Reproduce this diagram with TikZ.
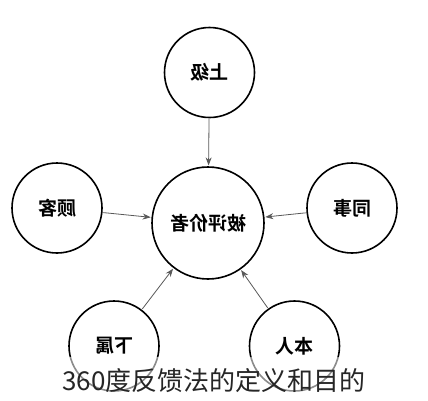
\documentclass[tikz,border=0pt]{standalone}
\usepackage{fontspec}
\usepackage{graphicx}
\newfontfamily\cjk{Noto Sans CJK SC}
\newfontfamily\cjkbold{Noto Sans CJK SC Bold}
\usetikzlibrary{arrows.meta}

\begin{document}
\begin{tikzpicture}[x=1pt, y=-1pt, >={Stealth[length=8pt, width=6pt]},
  every node/.style={font=\cjkbold\fontsize{19}{19}\selectfont},
  rater/.style={draw, circle, line width=1.6pt, minimum size=90pt, inner sep=0pt},
  feed/.style={->, draw=black!65, line width=0.8pt, shorten <=0.8pt, shorten >=0.8pt}]
  \useasboundingbox[fill=white] (0,0) rectangle (428,400);
  \node[rater, minimum size=112pt] (ratee) at (208,223) {\reflectbox{被评价者}};
  \node[rater] (boss) at (209.5,72.5) {\reflectbox{上级}};
  \node[rater] (client) at (57,208) {\reflectbox{顾客}};
  \node[rater] (peer) at (352,208) {\reflectbox{同事}};
  \node[rater] (sub) at (114,346) {\reflectbox{下属}};
  \node[rater] (self) at (294.5,346) {\reflectbox{本人}};
  \draw[feed] (boss) -- (ratee);
  \draw[feed] (client) -- (ratee);
  \draw[feed] (peer) -- (ratee);
  \draw[feed] (sub) -- (ratee);
  \draw[feed] (self) -- (ratee);
  % caption band over the bottom circles
  \fill[white, fill opacity=0.55] (0,357) rectangle (428,400);
  \node[font=\cjk\fontsize{26}{26}\selectfont, text=black!85, anchor=base] (title) at (214,390) {360度反馈法的定义和目的};
\end{tikzpicture}
\end{document}
